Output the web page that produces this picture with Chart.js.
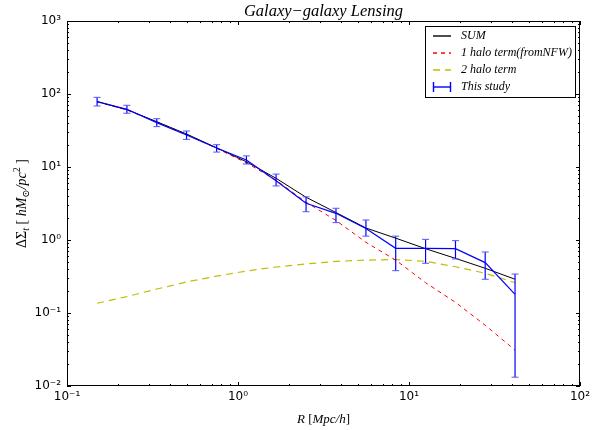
<!DOCTYPE html>
<html>
<head>
<meta charset="utf-8">
<script src="https://cdn.jsdelivr.net/npm/chart.js@4.4.1/dist/chart.umd.min.js"></script>
<style>
    html, body { margin: 0; padding: 0; background: #fff; }
</style>
</head>
<body>
<canvas id="lensing" width="599" height="430"></canvas>
<script>
// radius bins [Mpc/h]
const radius = [0.15, 0.224, 0.335, 0.50, 0.75, 1.12, 1.67, 2.5, 3.74, 5.6, 8.36, 12.5, 18.7, 27.9, 41.7];
// model curves
const sumTerm = [78.5, 61, 41.7, 28.3, 18.3, 11.8, 7.0, 3.85, 2.38, 1.46, 1.06, 0.76, 0.56, 0.41, 0.29];
const oneHalo = [78, 60.5, 41.3, 28, 18, 11.4, 6.6, 3.3, 1.85, 0.93, 0.53, 0.26, 0.14, 0.068, 0.031];
const twoHalo = [0.136, 0.168, 0.213, 0.266, 0.32, 0.376, 0.427, 0.47, 0.51, 0.53, 0.54, 0.51, 0.43, 0.35, 0.26];
// measurement with error bars
const measured = [79, 61.7, 40.5, 27.4, 18.2, 12.5, 6.5, 3.18, 2.32, 1.44, 0.77, 0.77, 0.76, 0.49, 0.18];
const errUpper = [90, 70, 45.9, 31.1, 20.2, 14.2, 8.0, 3.9, 2.72, 1.88, 1.13, 1.02, 0.98, 0.685, 0.342];
const errLower = [68.5, 54.5, 35.7, 23.9, 16, 11, 5.5, 2.44, 1.73, 1.13, 0.38, 0.48, 0.55, 0.29, 0.0132];

const xTicks = [0.1, 1, 10, 100];
const yTicks = [0.01, 0.1, 1, 10, 100, 1000];

const mathFont = '"Liberation Serif", "DejaVu Serif", serif';
const supMap = { '-': '\u207B', '0': '\u2070', '1': '\u00B9', '2': '\u00B2', '3': '\u00B3' };

function powLabel(v) {
    var e = String(Math.round(Math.log10(v)));
    return '10' + e.split('').map(function (c) { return supMap[c]; }).join('');
}

function points(ys) {
    return radius.map(function (r, i) { return { x: r, y: ys[i] }; });
}

// draw a run of text pieces: [text, style, size, baselineShift]
function drawPieces(ctx, pieces, cx, cy) {
    var total = 0;
    pieces.forEach(function (p) {
        ctx.font = p[1] + ' ' + p[2] + 'px ' + mathFont;
        p.w = ctx.measureText(p[0]).width;
        total += p.w;
    });
    var x = cx - total / 2;
    ctx.textAlign = 'left';
    ctx.textBaseline = 'alphabetic';
    pieces.forEach(function (p) {
        ctx.font = p[1] + ' ' + p[2] + 'px ' + mathFont;
        ctx.fillText(p[0], x, cy + p[3]);
        x += p.w;
    });
}

const decor = {
    id: 'decor',
    afterDatasetsDraw: function (chart) {
        var ctx = chart.ctx;
        var xs = chart.scales.x, ys = chart.scales.y;
        // error bars
        ctx.save();
        ctx.setLineDash([]);
        radius.forEach(function (r, i) {
            var px = xs.getPixelForValue(r);
            var top = ys.getPixelForValue(errUpper[i]);
            var bot = ys.getPixelForValue(errLower[i]);
            ctx.strokeStyle = '#0000ff';
            ctx.lineWidth = 1.2;
            ctx.beginPath();
            ctx.moveTo(px, top); ctx.lineTo(px, bot);
            ctx.stroke();
            ctx.strokeStyle = '#5555ff';
            ctx.lineWidth = 1;
            ctx.beginPath();
            ctx.moveTo(px - 3.5, top); ctx.lineTo(px + 3.5, top);
            ctx.moveTo(px - 3.5, bot); ctx.lineTo(px + 3.5, bot);
            ctx.stroke();
        });
        ctx.restore();
    },
    afterDraw: function (chart) {
        var ctx = chart.ctx;
        var a = chart.chartArea;
        var xs = chart.scales.x, ys = chart.scales.y;
        ctx.save();
        ctx.setLineDash([]);
        // frame
        ctx.strokeStyle = '#000';
        ctx.lineWidth = 1;
        ctx.strokeRect(a.left + 0.5, a.top + 0.5, a.right - a.left - 1, a.bottom - a.top - 1);

        // inward ticks on all four sides
        ctx.beginPath();
        for (var k = -1; k <= 2; k++) {
            for (var m = 1; m <= 9; m++) {
                var v = m * Math.pow(10, k);
                if (v < 0.1 || v > 100) continue;
                var len = m === 1 ? 4 : 2;
                var px = Math.round(xs.getPixelForValue(v)) + 0.5;
                ctx.moveTo(px, a.bottom); ctx.lineTo(px, a.bottom - len);
                ctx.moveTo(px, a.top); ctx.lineTo(px, a.top + len);
            }
        }
        for (var k2 = -2; k2 <= 3; k2++) {
            for (var m2 = 1; m2 <= 9; m2++) {
                var v2 = m2 * Math.pow(10, k2);
                if (v2 < 0.01 || v2 > 1000) continue;
                var len2 = m2 === 1 ? 4 : 2;
                var py = Math.round(ys.getPixelForValue(v2)) + 0.5;
                ctx.moveTo(a.left, py); ctx.lineTo(a.left + len2, py);
                ctx.moveTo(a.right, py); ctx.lineTo(a.right - len2, py);
            }
        }
        ctx.stroke();

        // title and axis labels
        ctx.fillStyle = '#000';
        var cx = (a.left + a.right) / 2;
        drawPieces(ctx, [['Galaxy\u2212galaxy Lensing', 'italic', 16.5, 0]], cx, 16);
        drawPieces(ctx, [
            ['R ', 'italic', 13, 0], ['[', 'normal', 13, 0],
            ['Mpc/h', 'italic', 13, 0], [']', 'normal', 13, 0]
        ], cx, 423);

        ctx.save();
        ctx.translate(26, (a.top + a.bottom) / 2);
        ctx.rotate(-Math.PI / 2);
        drawPieces(ctx, [
            ['\u0394\u03A3', 'normal', 14, 0], ['t', 'italic', 10, 3],
            [' [ ', 'normal', 14, 0], ['hM', 'italic', 14, 0], ['\u2299', 'normal', 10, 3],
            ['/pc', 'italic', 14, 0], ['2', 'normal', 10, -6], [' ]', 'normal', 14, 0]
        ], 0, 0);
        ctx.restore();

        // legend
        var lx = 425, ly = 26, lw = 150, lh = 71;
        ctx.fillStyle = '#fff';
        ctx.fillRect(lx, ly, lw, lh);
        ctx.strokeStyle = '#000';
        ctx.lineWidth = 1;
        ctx.strokeRect(lx + 0.5, ly + 0.5, lw, lh);
        var rows = [
            { label: 'SUM', color: '#000000', dash: [] },
            { label: '1 halo term(fromNFW)', color: '#ff0000', dash: [4, 4] },
            { label: '2 halo term', color: '#bfbf00', dash: [7, 5] },
            { label: 'This study', color: '#0000ff', dash: [], err: true }
        ];
        rows.forEach(function (row, i) {
            var y = ly + 10 + i * 17;
            ctx.strokeStyle = row.color;
            ctx.lineWidth = 1.4;
            ctx.setLineDash(row.dash);
            ctx.beginPath();
            ctx.moveTo(433, y); ctx.lineTo(451, y);
            ctx.stroke();
            ctx.setLineDash([]);
            if (row.err) {
                ctx.beginPath();
                ctx.moveTo(433.5, y - 5); ctx.lineTo(433.5, y + 5);
                ctx.moveTo(450.5, y - 5); ctx.lineTo(450.5, y + 5);
                ctx.stroke();
            }
            ctx.fillStyle = '#000';
            ctx.font = 'italic 12px ' + mathFont;
            ctx.textAlign = 'left';
            ctx.textBaseline = 'middle';
            ctx.fillText(row.label, 461, y);
        });
        ctx.restore();
    }
};

new Chart(document.getElementById('lensing'), {
    type: 'scatter',
    data: {
        datasets: [
            { label: 'SUM', data: points(sumTerm), showLine: true, borderColor: '#000', borderWidth: 1, pointRadius: 0, order: 1 },
            { label: '1 halo term(fromNFW)', data: points(oneHalo), showLine: true, borderColor: '#ff0000', borderWidth: 1, borderDash: [4, 4], pointRadius: 0, order: 2 },
            { label: '2 halo term', data: points(twoHalo), showLine: true, borderColor: '#bfbf00', borderWidth: 1.2, borderDash: [7, 5], pointRadius: 0, order: 3 },
            { label: 'This study', data: points(measured), showLine: true, borderColor: '#0000ff', borderWidth: 1.2, pointRadius: 0, order: 0 }
        ]
    },
    options: {
        responsive: false,
        animation: false,
        layout: { padding: { left: 0, top: 21, right: 19, bottom: 0 } },
        plugins: { legend: { display: false }, tooltip: { enabled: false } },
        scales: {
            x: {
                type: 'logarithmic',
                min: 0.1, max: 100,
                afterFit: function (s) { s.height = 44; },
                afterBuildTicks: function (s) { s.ticks = xTicks.map(function (v) { return { value: v }; }); },
                grid: { display: false, drawTicks: false },
                border: { display: false },
                ticks: {
                    autoSkip: false, maxRotation: 0, padding: 4, color: '#000',
                    font: { family: '"DejaVu Sans"', size: 12 },
                    callback: function (v) { return powLabel(v); }
                }
            },
            y: {
                type: 'logarithmic',
                min: 0.01, max: 1000,
                afterFit: function (s) { s.width = 67; },
                afterBuildTicks: function (s) { s.ticks = yTicks.map(function (v) { return { value: v }; }); },
                grid: { display: false, drawTicks: false },
                border: { display: false },
                ticks: {
                    autoSkip: false, padding: 6, color: '#000',
                    font: { family: '"DejaVu Sans"', size: 12 },
                    callback: function (v) { return powLabel(v); }
                }
            }
        }
    },
    plugins: [decor]
});
</script>
</body>
</html>
